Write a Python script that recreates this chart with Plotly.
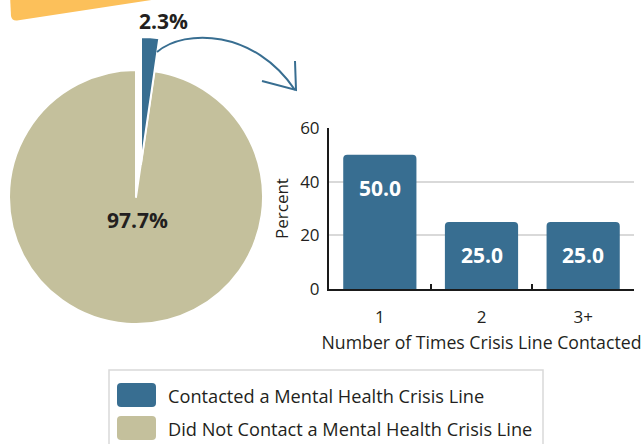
import plotly.graph_objects as go

# ---------------- data ----------------
pie_labels = ["Contacted a Mental Health Crisis Line", "Did Not Contact a Mental Health Crisis Line"]
pie_values = [2.3, 97.7]
bar_categories = ["1", "2", "3+"]
bar_values = [50.0, 25.0, 25.0]
y_ticks = [0, 20, 40, 60]

BLUE = "#386e91"
TAN = "#c4c09c"
YELLOW = "#fcc05a"
TXT = "#231f20"
FONT = "Open Sans"

W, H = 644, 444


def px(x, y):
    return x / W, 1 - y / H


def dom(x0, x1, y0, y1):
    a, b = px(x0, y1)
    c, d = px(x1, y0)
    return dict(x=[a, c], y=[b, d])


fig = go.Figure()

# main pie (tan slice; blue slice left empty)
fig.add_trace(go.Pie(
    labels=pie_labels, values=pie_values, sort=False, direction="clockwise", rotation=0,
    marker=dict(colors=["rgba(0,0,0,0)", TAN],
                line=dict(color=["rgba(0,0,0,0)", "white"], width=2)),
    textinfo="none", showlegend=False, domain=dom(9, 263, 70, 324), hoverinfo="label+percent",
))
# exploded blue slice
fig.add_trace(go.Pie(
    labels=pie_labels, values=pie_values, sort=False, direction="clockwise", rotation=0,
    marker=dict(colors=[BLUE, "rgba(0,0,0,0)"],
                line=dict(color=["white", "rgba(0,0,0,0)"], width=2)),
    textinfo="none", showlegend=False, domain=dom(14, 268, 37, 291), hoverinfo="label+percent",
))

# bars
fig.add_trace(go.Bar(
    x=bar_categories, y=bar_values, marker=dict(color=BLUE, cornerradius=4, line=dict(width=0)),
    width=0.72, showlegend=False, xaxis="x", yaxis="y",
))

xd0, _ = px(329, 0)
xd1, _ = px(634, 0)
_, yd0 = px(0, 289)
_, yd1 = px(0, 128)

fig.update_layout(
    template="none",
    width=W, height=H, margin=dict(l=0, r=0, t=0, b=0, pad=0), autosize=False,
    showlegend=False,
    paper_bgcolor="white", plot_bgcolor="white",
    font=dict(family=FONT, color=TXT, size=17),
    xaxis=dict(domain=[xd0, xd1], type="category", showline=True, linecolor="#1a1a1a", linewidth=2,
               ticks="inside", ticklen=5, tickwidth=2, tickcolor="#1a1a1a", tickson="boundaries",
               showgrid=False, tickfont=dict(size=17), ticklabelstandoff=12, automargin=False,
               title=dict(text="Number of Times Crisis Line Contacted", font=dict(size=17.7), standoff=9)),
    yaxis=dict(domain=[yd0, yd1], range=[0, 60], tickvals=y_ticks, showline=True, linecolor="#1a1a1a",
               linewidth=2, ticks="", showgrid=True, gridcolor="#d9d9d9", gridwidth=1.5,
               zeroline=False, tickfont=dict(size=17), ticklabelstandoff=4, automargin=False,
               title=dict(text="Percent", font=dict(size=17), standoff=7)),
)

shapes = []

# yellow banner (decorative, cut off at top)
b = [px(x, y) for x, y in [(10, -5), (11, 16), (12, 21), (17, 20.5), (158, -1), (158, -5)]]
p = (f"M {b[0][0]},{b[0][1]} L {b[1][0]},{b[1][1]} Q {b[2][0]},{b[2][1]} {b[3][0]},{b[3][1]} "
     f"L {b[4][0]},{b[4][1]} L {b[5][0]},{b[5][1]} Z")
shapes.append(dict(type="path", xref="paper", yref="paper", path=p, fillcolor=YELLOW, line=dict(width=0)))

# curved arrow
a0 = px(157, 52); c1 = px(185, 28); c2 = px(255, 30); a1 = px(295, 90)
shapes.append(dict(type="path", xref="paper", yref="paper",
                   path=f"M {a0[0]},{a0[1]} C {c1[0]},{c1[1]} {c2[0]},{c2[1]} {a1[0]},{a1[1]}",
                   line=dict(color=BLUE, width=2)))
h0 = px(295, 61); h1 = px(296, 90); h2 = px(262, 81)
shapes.append(dict(type="path", xref="paper", yref="paper",
                   path=f"M {h0[0]},{h0[1]} L {h1[0]},{h1[1]} L {h2[0]},{h2[1]}",
                   line=dict(color=BLUE, width=2)))

# legend box
l0 = px(109, 370); l1 = px(543, 460)
shapes.append(dict(type="rect", xref="paper", yref="paper", x0=l0[0], y0=l1[1], x1=l1[0], y1=l0[1],
                   line=dict(color="#d9d9d9", width=1.5), fillcolor="rgba(0,0,0,0)"))


def rrect(x0, y0, x1, y1, r):
    pts = [
        ("M", [(x0 + r, y0)]), ("L", [(x1 - r, y0)]), ("Q", [(x1, y0), (x1, y0 + r)]),
        ("L", [(x1, y1 - r)]), ("Q", [(x1, y1), (x1 - r, y1)]), ("L", [(x0 + r, y1)]),
        ("Q", [(x0, y1), (x0, y1 - r)]), ("L", [(x0, y0 + r)]), ("Q", [(x0, y0), (x0 + r, y0)]),
    ]
    s = ""
    for cmd, ps in pts:
        s += cmd + " " + " ".join(f"{px(x, y)[0]},{px(x, y)[1]}" for x, y in ps) + " "
    return s + "Z"


leg_colors = [BLUE, TAN]
leg_swatch_y = [395, 428]
leg_text_y = [396, 429]
annotations = []
for i, lab in enumerate(pie_labels):
    yc = leg_swatch_y[i]
    shapes.append(dict(type="path", xref="paper", yref="paper", path=rrect(117, yc - 12, 156, yc + 12, 4),
                       fillcolor=leg_colors[i], line=dict(width=0)))
    tx, ty = px(166, leg_text_y[i])
    annotations.append(dict(x=tx, y=ty, xref="paper", yref="paper", text=lab, showarrow=False,
                            xanchor="left", yanchor="middle", font=dict(size=18.2, color=TXT)))

# pie labels
t1 = px(163, 21)
annotations.append(dict(x=t1[0], y=t1[1], xref="paper", yref="paper", text=f"<b>{pie_values[0]}%</b>",
                        showarrow=False, xanchor="center", yanchor="middle", font=dict(size=21, color=TXT)))
t2 = px(137, 220)
annotations.append(dict(x=t2[0], y=t2[1], xref="paper", yref="paper", text=f"<b>{pie_values[1]}%</b>",
                        showarrow=False, xanchor="center", yanchor="middle", font=dict(size=21, color=TXT)))

# bar value labels
for i, v in enumerate(bar_values):
    annotations.append(dict(x=i, y=v, xref="x", yref="y", text=f"<b>{v:.1f}</b>", showarrow=False,
                            xanchor="center", yanchor="middle",
                            yshift=-33, font=dict(size=21, color="white")))

fig.update_layout(shapes=shapes, annotations=annotations)
fig.write_html("out.html", config={"displayModeBar": False},
               post_script="document.body.style.margin='0';")
